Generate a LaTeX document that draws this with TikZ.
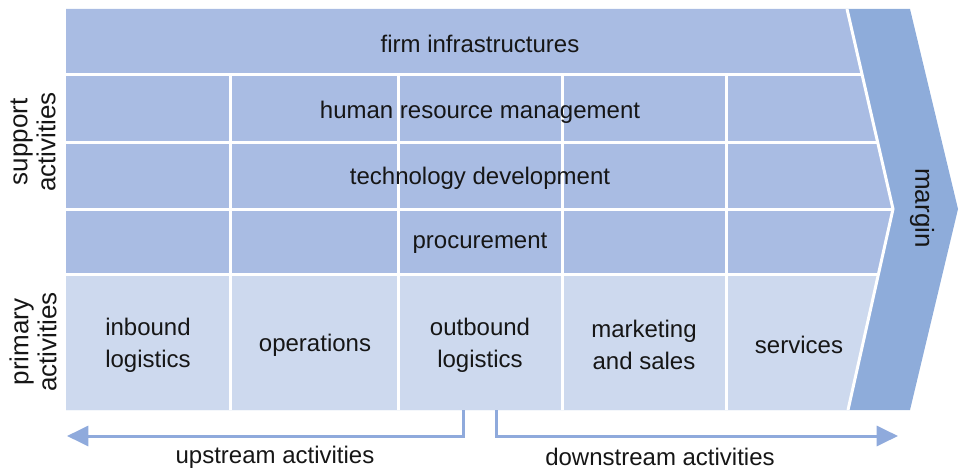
\documentclass[tikz,border=0pt]{standalone}
\usepackage{fontspec}
\setmainfont{Liberation Sans}
\usetikzlibrary{arrows.meta}
\definecolor{supportblue}{RGB}{169,188,227}
\definecolor{primaryblue}{RGB}{205,217,238}
\definecolor{marginblue}{RGB}{142,172,218}
\definecolor{arrowblue}{RGB}{143,170,220}
\definecolor{textgray}{RGB}{22,22,22}

\begin{document}
\begin{tikzpicture}[
    x=0.75pt, y=-0.75pt,
    cell/.style={text=textgray, font=\fontsize{18}{24}\selectfont, align=center, inner sep=0pt},
    side/.style={text=textgray, font=\fontsize{19.5}{21}\selectfont, align=center, inner sep=0pt},
    gap/.style={white, line width=2.25pt},
    flow/.style={arrowblue, line width=2.25pt, -{Triangle[length=16pt,width=15pt]}}
]
  \useasboundingbox (0,0) rectangle (960,474);

  % 利润箭头
  \fill[marginblue] (847,9) -- (910,9) -- (958,209) -- (910,410) -- (848,410) -- (893,209) -- cycle;

  % 价值链主体
  \fill[supportblue] (66,9) -- (847,9) -- (893,209) -- (848,410) -- (66,410) -- cycle;
  \begin{scope}
    \clip (66,9) -- (847,9) -- (893,209) -- (848,410) -- (66,410) -- cycle;
    \fill[primaryblue] (66,275) rectangle (900,410);
    % 白色分隔线
    \draw[gap] (66,75) -- (900,75);
    \draw[gap] (66,143) -- (900,143);
    \draw[gap] (66,209) -- (900,209);
    \draw[gap] (66,274.5) -- (900,274.5);
    \draw[gap] (230.5,75) -- (230.5,410);
    \draw[gap] (398.5,75) -- (398.5,410);
    \draw[gap] (562,75) -- (562,410);
    \draw[gap] (726,75) -- (726,410);
  \end{scope}
  \draw[gap] (847,9) -- (893,209) -- (848,410);

  % 文字
  \node[cell] (infra) at (480,44) {firm infrastructures};
  \node[cell] (hrm) at (480,112) {human resource management};
  \node[cell] (tech) at (480,178) {technology development};
  \node[cell] (proc) at (480,243) {procurement};
  \node[cell] (inbound) at (148,345) {inbound\\logistics};
  \node[cell] (ops) at (315,345) {operations};
  \node[cell] (outbound) at (480,345) {outbound\\logistics};
  \node[cell] (market) at (644,345) {marketing\\and sales};
  \node[cell] (serv) at (799,345) {services};

  \node[side, rotate=90] (support) at (33,142) {support\\activities};
  \node[side, rotate=90] (primary) at (33,342) {primary\\activities};
  \node[side, rotate=-90] (margin) at (922,208) {margin};

  % 上下游箭头
  \coordinate (upstart) at (463,410);
  \coordinate (upend) at (67,436);
  \coordinate (downstart) at (496,410);
  \coordinate (downend) at (898,436);
  \draw[flow] (upstart) |- (upend);
  \draw[flow] (downstart) |- (downend);

  \node[cell] (upstream) at (275,457) {upstream activities};
  \node[cell] (downstream) at (660,457) {downstream activities};

\end{tikzpicture}
\end{document}
